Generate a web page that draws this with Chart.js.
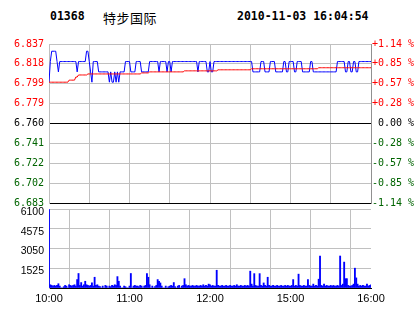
<!DOCTYPE html>
<html>
<head>
<meta charset="utf-8">
<script src="https://cdn.jsdelivr.net/npm/chart.js@4.4.0/dist/chart.umd.min.js"></script>
<style>
  body { margin: 0; background: #fff; }
  #wrap { position: relative; width: 414px; height: 314px; overflow: hidden; }
  canvas { position: absolute; left: 0; top: 0; }
  .hd { position: absolute; top: 9px; font: bold 11.5px 'DejaVu Sans Mono', monospace; line-height: 14px; color: #000; white-space: nowrap; }
  .name { font: 13px 'Noto Sans CJK SC', sans-serif; letter-spacing: 0.5px; top: 8px; }
</style>
</head>
<body>
<div id="wrap">
  <div class="hd" style="left:50px">01368</div>
  <div class="hd name" style="left:103px">特步国际</div>
  <div class="hd" style="left:237px">2010-11-03 16:04:54</div>
  <canvas id="vol" width="414" height="314"></canvas>
  <canvas id="price" width="414" height="314"></canvas>
</div>
<script>
// x axis: minute index 0..240 (10:00-12:30, 14:30-16:00)
const timeTicks = [0, 30, 60, 90, 120, 150, 180, 210, 240];
const timeLabels = ['10:00', '', '11:00', '', '12:00', '', '15:00', '', '16:00'];

const priceTicks = [6.683, 6.70225, 6.7215, 6.74075, 6.76, 6.77925, 6.7985, 6.81775, 6.837];
const priceLabels = ['6.683', '6.702', '6.722', '6.741', '6.760', '6.779', '6.799', '6.818', '6.837'];
const pctTicks = [-1.14, -0.855, -0.57, -0.285, 0, 0.285, 0.57, 0.855, 1.14];
const pctLabels = ['-1.14 %', '-0.85 %', '-0.57 %', '-0.28 %', ' 0.00 %', '+0.28 %', '+0.57 %', '+0.85 %', '+1.14 %'];
const volTicks = [0, 1525, 3050, 4575, 6100];
const volLabels = ['', '1525', '3050', '4575', '6100'];

const price = [
  6.80,6.82,6.83,6.83,6.83,6.83,6.82,6.81,6.82,6.82,
  6.82,6.82,6.82,6.82,6.82,6.82,6.82,6.82,6.82,6.82,
  6.82,6.81,6.82,6.82,6.82,6.82,6.82,6.82,6.83,6.83,
  6.82,6.81,6.80,6.82,6.82,6.82,6.82,6.81,6.81,6.81,
  6.81,6.81,6.81,6.81,6.81,6.80,6.81,6.80,6.80,6.81,
  6.80,6.81,6.80,6.81,6.81,6.81,6.81,6.82,6.82,6.82,
  6.82,6.81,6.81,6.81,6.81,6.82,6.82,6.82,6.82,6.81,
  6.81,6.81,6.81,6.81,6.81,6.82,6.82,6.82,6.82,6.82,
  6.82,6.82,6.81,6.82,6.82,6.82,6.82,6.82,6.81,6.82,
  6.82,6.81,6.82,6.82,6.82,6.82,6.82,6.82,6.82,6.82,
  6.82,6.82,6.82,6.82,6.82,6.82,6.82,6.82,6.82,6.82,
  6.82,6.81,6.82,6.82,6.82,6.82,6.82,6.82,6.81,6.81,
  6.82,6.81,6.81,6.82,6.82,6.82,6.82,6.82,6.82,6.82,
  6.82,6.82,6.82,6.82,6.82,6.82,6.82,6.82,6.82,6.82,
  6.82,6.82,6.82,6.82,6.82,6.82,6.82,6.82,6.82,6.82,
  6.82,6.82,6.81,6.81,6.81,6.81,6.81,6.81,6.82,6.82,
  6.82,6.81,6.81,6.81,6.81,6.82,6.82,6.82,6.82,6.81,
  6.81,6.81,6.81,6.81,6.81,6.82,6.82,6.81,6.81,6.82,
  6.82,6.82,6.82,6.81,6.81,6.82,6.82,6.82,6.82,6.81,
  6.81,6.81,6.81,6.81,6.81,6.82,6.82,6.81,6.81,6.81,
  6.81,6.81,6.81,6.81,6.81,6.81,6.81,6.81,6.81,6.81,
  6.81,6.81,6.81,6.81,6.81,6.82,6.82,6.82,6.82,6.82,
  6.82,6.81,6.81,6.82,6.82,6.81,6.81,6.82,6.82,6.81,
  6.81,6.82,6.82,6.82,6.82,6.82,6.82,6.82,6.82,6.82,
  6.82
];

const avgPrice = [
  6.800,6.800,6.800,6.800,6.800,6.800,6.800,6.800,6.800,6.800,
  6.800,6.800,6.800,6.800,6.800,6.802,6.802,6.802,6.802,6.802,
  6.805,6.805,6.807,6.807,6.807,6.807,6.807,6.807,6.807,6.808,
  6.808,6.808,6.808,6.808,6.808,6.808,6.808,6.808,6.808,6.808,
  6.808,6.808,6.808,6.808,6.808,6.808,6.808,6.808,6.808,6.808,
  6.808,6.808,6.808,6.808,6.808,6.808,6.808,6.808,6.808,6.808,
  6.808,6.808,6.808,6.808,6.808,6.808,6.808,6.808,6.808,6.809,
  6.809,6.809,6.809,6.809,6.809,6.810,6.810,6.810,6.810,6.810,
  6.810,6.810,6.810,6.810,6.810,6.810,6.810,6.810,6.810,6.810,
  6.810,6.810,6.810,6.810,6.810,6.810,6.810,6.810,6.810,6.810,
  6.810,6.811,6.811,6.811,6.811,6.811,6.811,6.811,6.811,6.811,
  6.811,6.811,6.811,6.811,6.811,6.811,6.811,6.811,6.811,6.811,
  6.811,6.811,6.811,6.811,6.811,6.811,6.812,6.812,6.812,6.812,
  6.812,6.812,6.812,6.812,6.812,6.812,6.812,6.812,6.812,6.812,
  6.812,6.812,6.812,6.812,6.812,6.812,6.812,6.812,6.812,6.812,
  6.812,6.813,6.813,6.813,6.813,6.813,6.813,6.813,6.813,6.813,
  6.813,6.813,6.813,6.813,6.813,6.813,6.813,6.813,6.813,6.813,
  6.813,6.813,6.813,6.813,6.813,6.813,6.813,6.813,6.813,6.813,
  6.813,6.813,6.813,6.813,6.813,6.813,6.813,6.813,6.813,6.813,
  6.813,6.813,6.813,6.813,6.813,6.813,6.813,6.813,6.813,6.813,
  6.813,6.814,6.814,6.814,6.814,6.814,6.814,6.814,6.814,6.814,
  6.814,6.814,6.814,6.814,6.814,6.814,6.814,6.814,6.814,6.814,
  6.814,6.814,6.814,6.814,6.814,6.814,6.814,6.814,6.814,6.814,
  6.814,6.814,6.814,6.814,6.814,6.814,6.814,6.814,6.814,6.814,
  6.814
];

const volume = [
  6050,250,200,150,200,150,200,330,150,0,
  0,100,200,150,0,250,200,150,200,250,
  150,650,1120,200,420,150,250,520,250,200,
  150,200,400,150,830,200,250,150,100,0,
  150,0,200,150,0,150,100,200,150,250,
  200,880,520,150,0,0,150,100,0,0,
  150,1120,0,150,200,150,150,100,200,150,
  0,150,200,1120,830,250,0,150,0,100,
  200,650,520,390,150,0,0,150,0,100,
  150,200,150,420,100,0,150,200,0,150,
  200,720,250,150,200,150,150,200,150,150,
  200,150,150,200,150,250,150,200,150,300,
  250,150,200,150,150,1370,200,150,150,200,
  150,150,200,150,150,200,150,150,200,150,
  250,150,150,200,150,150,200,150,200,150,
  1300,300,150,1110,200,150,150,1110,200,150,
  390,200,150,830,200,150,150,200,150,150,
  200,150,150,200,150,150,200,150,200,150,
  150,200,650,150,200,150,1070,200,150,150,
  200,150,150,650,200,150,150,300,150,200,
  150,680,2470,200,150,300,150,200,150,150,
  200,150,200,150,150,200,150,2470,200,300,
  2000,720,720,200,150,150,200,300,1530,780,
  300,150,200,150,200,150,150,300,150,200,
  250
];

const GRID = '#c0c0c0';
const EDGE = '#909090';
const monoFont = { family: 'DejaVu Sans Mono', size: 10 };
const sansFont = { family: 'Liberation Sans', size: 10.5 };

function tickColor(i) {
  if (i < 4) return '#006400';
  if (i === 4) return '#000000';
  return '#ff0000';
}

const xScale = (showLabels) => ({
  type: 'linear',
  min: 0,
  max: 240,
  offset: false,
  afterBuildTicks: s => { s.ticks = timeTicks.map(v => ({ value: v })); },
  afterFit: s => { s.height = showLabels ? 26 : 0; },
  grid: { color: GRID, drawTicks: false },
  border: { color: '#000000' },
  ticks: {
    display: showLabels,
    padding: 4,
    color: '#000',
    font: { family: 'Liberation Sans', size: 11 },
    maxRotation: 0,
    autoSkip: false,
    callback: (v, i) => timeLabels[i]
  }
});

new Chart(document.getElementById('price'), {
  type: 'line',
  data: {
    datasets: [{
      label: '均价',
      data: avgPrice.map((v, i) => ({ x: i, y: v })),
      borderColor: '#ff0000',
      borderWidth: 1,
      pointRadius: 0,
      yAxisID: 'y'
    }, {
      label: '价格',
      data: price.map((v, i) => ({ x: i, y: v })),
      borderColor: '#0000ff',
      borderWidth: 1,
      pointRadius: 0,
      yAxisID: 'y'
    }]
  },
  options: {
    responsive: false,
    animation: false,
    devicePixelRatio: 1,
    layout: { padding: { top: 44, bottom: 111, left: 0, right: 0 } },
    plugins: { legend: { display: false }, tooltip: { enabled: false } },
    scales: {
      x: xScale(false),
      y: {
        type: 'linear',
        position: 'left',
        min: 6.683,
        max: 6.837,
        bounds: 'data',
        afterBuildTicks: s => { s.ticks = priceTicks.map(v => ({ value: v })); },
        afterFit: s => { s.width = 49; },
        grid: {
          drawTicks: false,
          color: ctx => (ctx.tick && (ctx.tick.value === 6.76 || ctx.tick.value === 6.683)) ? '#000000' : GRID
        },
        border: { color: GRID },
        ticks: {
          padding: 5,
          font: monoFont,
          color: ctx => tickColor(ctx.index),
          callback: (v, i) => priceLabels[i]
        }
      },
      yR: {
        type: 'linear',
        position: 'right',
        min: -1.14,
        max: 1.14,
        bounds: 'data',
        afterBuildTicks: s => { s.ticks = pctTicks.map(v => ({ value: v })); },
        afterFit: s => { s.width = 43; },
        grid: { drawOnChartArea: false, drawTicks: false },
        border: { color: EDGE },
        ticks: {
          padding: 1,
          font: monoFont,
          color: ctx => tickColor(ctx.index),
          callback: (v, i) => pctLabels[i]
        }
      }
    }
  }
});

new Chart(document.getElementById('vol'), {
  type: 'bar',
  data: {
    datasets: [{
      label: '成交量',
      data: volume.map((v, i) => ({ x: i, y: v })),
      backgroundColor: '#0000ff',
      barThickness: 1.2
    }]
  },
  options: {
    responsive: false,
    animation: false,
    devicePixelRatio: 1,
    layout: { padding: { top: 209, bottom: 0, left: 0, right: 43 } },
    plugins: { legend: { display: false }, tooltip: { enabled: false } },
    scales: {
      x: xScale(true),
      y: {
        type: 'linear',
        position: 'left',
        min: 0,
        max: 6100,
        bounds: 'data',
        afterBuildTicks: s => { s.ticks = volTicks.map(v => ({ value: v })); },
        afterFit: s => { s.width = 49; },
        grid: { color: GRID, drawTicks: false },
        border: { color: GRID },
        ticks: {
          padding: 5,
          labelOffset: 3,
          font: sansFont,
          color: '#000',
          callback: (v, i) => volLabels[i]
        }
      }
    }
  }
});
</script>
</body>
</html>
